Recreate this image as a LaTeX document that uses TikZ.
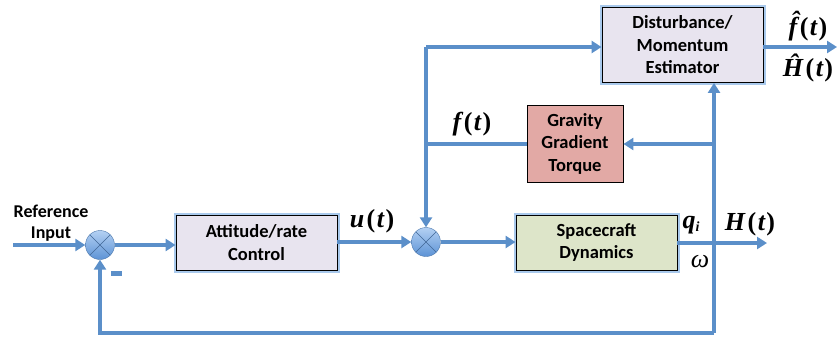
\documentclass[tikz,border=0pt]{standalone}
\usepackage{fontspec}
\setsansfont{Carlito}
\newfontfamily\labfont{Liberation Serif}
\usetikzlibrary{arrows.meta,calc}
\definecolor{flow}{HTML}{5B8FC9}
\definecolor{glow}{HTML}{A9C9EC}
\definecolor{lav}{HTML}{E8E4EF}
\definecolor{rose}{HTML}{E2A9A5}
\definecolor{sage}{HTML}{DDE5C9}
\definecolor{sumtop}{HTML}{B4D0F2}
\definecolor{sumbot}{HTML}{5C93D6}
% bold italic symbol followed by an argument in parentheses
\newcommand\sig[2]{{\bfseries\itshape #1}\kern2.5pt{\bfseries(}\kern1.5pt{\bfseries\itshape #2}\kern1.5pt{\bfseries)}}
\tikzset{
  boxtext/.style={font=\sffamily\bfseries\fontsize{18.5}{22.5}\selectfont},
  block/.style={boxtext, draw=black, line width=0.9pt, minimum width=161pt, minimum height=55pt,
    inner sep=0pt, align=center, preaction={draw=glow, line width=5pt}},
  plainblock/.style={boxtext, draw=black, line width=0.9pt, inner sep=0pt, align=center},
  sumjunction/.style={circle, minimum size=29pt, inner sep=0pt, draw=sumbot!80!black, line width=0.4pt,
    top color=sumtop, bottom color=sumbot,
    path picture={\draw[sumbot!70!black, line width=0.5pt]
      (path picture bounding box.north west) -- (path picture bounding box.south east)
      (path picture bounding box.south west) -- (path picture bounding box.north east);}},
  flowline/.style={draw=flow, line width=3.2pt},
  flowarrow/.style={flowline, -{Triangle[width=12pt,length=10pt]}},
  mlabel/.style={font=\labfont\fontsize{26}{28}\selectfont, inner sep=0pt},
  txtlabel/.style={font=\sffamily\bfseries\fontsize{18}{21}\selectfont, align=center, inner sep=0pt}
}
\begin{document}
\begin{tikzpicture}[x=1pt,y=-1pt]
\useasboundingbox (0,0) rectangle (837,337);

% blocks
\node[block, fill=lav, minimum height=75pt] (dist) at (682.5,45) {Disturbance/\\Momentum\\Estimator};
\node[plainblock, fill=rose, minimum width=96pt, minimum height=77pt] (grav) at (575,143.5) {Gravity\\Gradient\\Torque};
\node[block, fill=lav] (att) at (256.5,242.5) {Attitude/rate\\Control};
\node[block, fill=sage] (sc) at (596.5,242.5) {Spacecraft\\Dynamics};

% summing junctions
\node[sumjunction] (s1) at (100,245) {};
\node[sumjunction] (s2) at (426,242) {};

% branch points and free ends
\coordinate (in) at (13,245);
\coordinate (tapA) at (426,47);
\coordinate (tapF) at (426,144);
\coordinate (outH) at (767,243);
\coordinate (outF) at (837,47);
\coordinate (fbR) at (714,333);
\coordinate (fbL) at (100,333);
\coordinate (vG) at (714,144);

% connectors
\draw[flowarrow] (in) -- (s1.west);
\draw[flowarrow] (s1.east) -- (att.west |- s1.east);
\draw[flowarrow] (att.east |- s2.west) -- (s2.west);
\draw[flowarrow] (s2.east) -- (sc.west |- s2.east);
\draw[flowarrow] (sc.east |- outH) -- (outH);
\draw[flowarrow] (fbR) -- (dist.south -| fbR);
\draw[flowarrow] (fbR) -- (fbL) -- (s1.south);
\draw[flowarrow] (vG) -- (grav.east |- vG);
\draw[flowline] (grav.west |- tapF) -- (tapF);
\draw[flowarrow] (tapA) -- (s2.north);
\draw[flowarrow] (tapA) -- (dist.west |- tapA);
\draw[flowarrow] (dist.east |- outF) -- (outF);

% minus sign at the feedback input
\fill[flow] (110.5,270.5) rectangle (121.5,275.5);

% labels
\node[txtlabel] (ref) at (51,223) {Reference\\Input};
\node[mlabel] (lu) at (372,221) {\sig{u}{t}};
\node[mlabel] (lf) at (472,124) {\sig{f}{t}};
\node[mlabel] (lfh) at (808,26) {\sig{\^{f}}{t}};
\node[mlabel] (lHh) at (808,68) {\sig{\^{H}}{t}};
\node[mlabel] (lq) at (691,225) {{\bfseries\itshape q}\raisebox{-3pt}{\fontsize{14}{14}\selectfont\bfseries\itshape i}};
\node[mlabel] (lH) at (750,224) {\sig{H}{t}};
\node[mlabel] (lw) at (700,262) {\itshape ω};
\end{tikzpicture}
\end{document}
